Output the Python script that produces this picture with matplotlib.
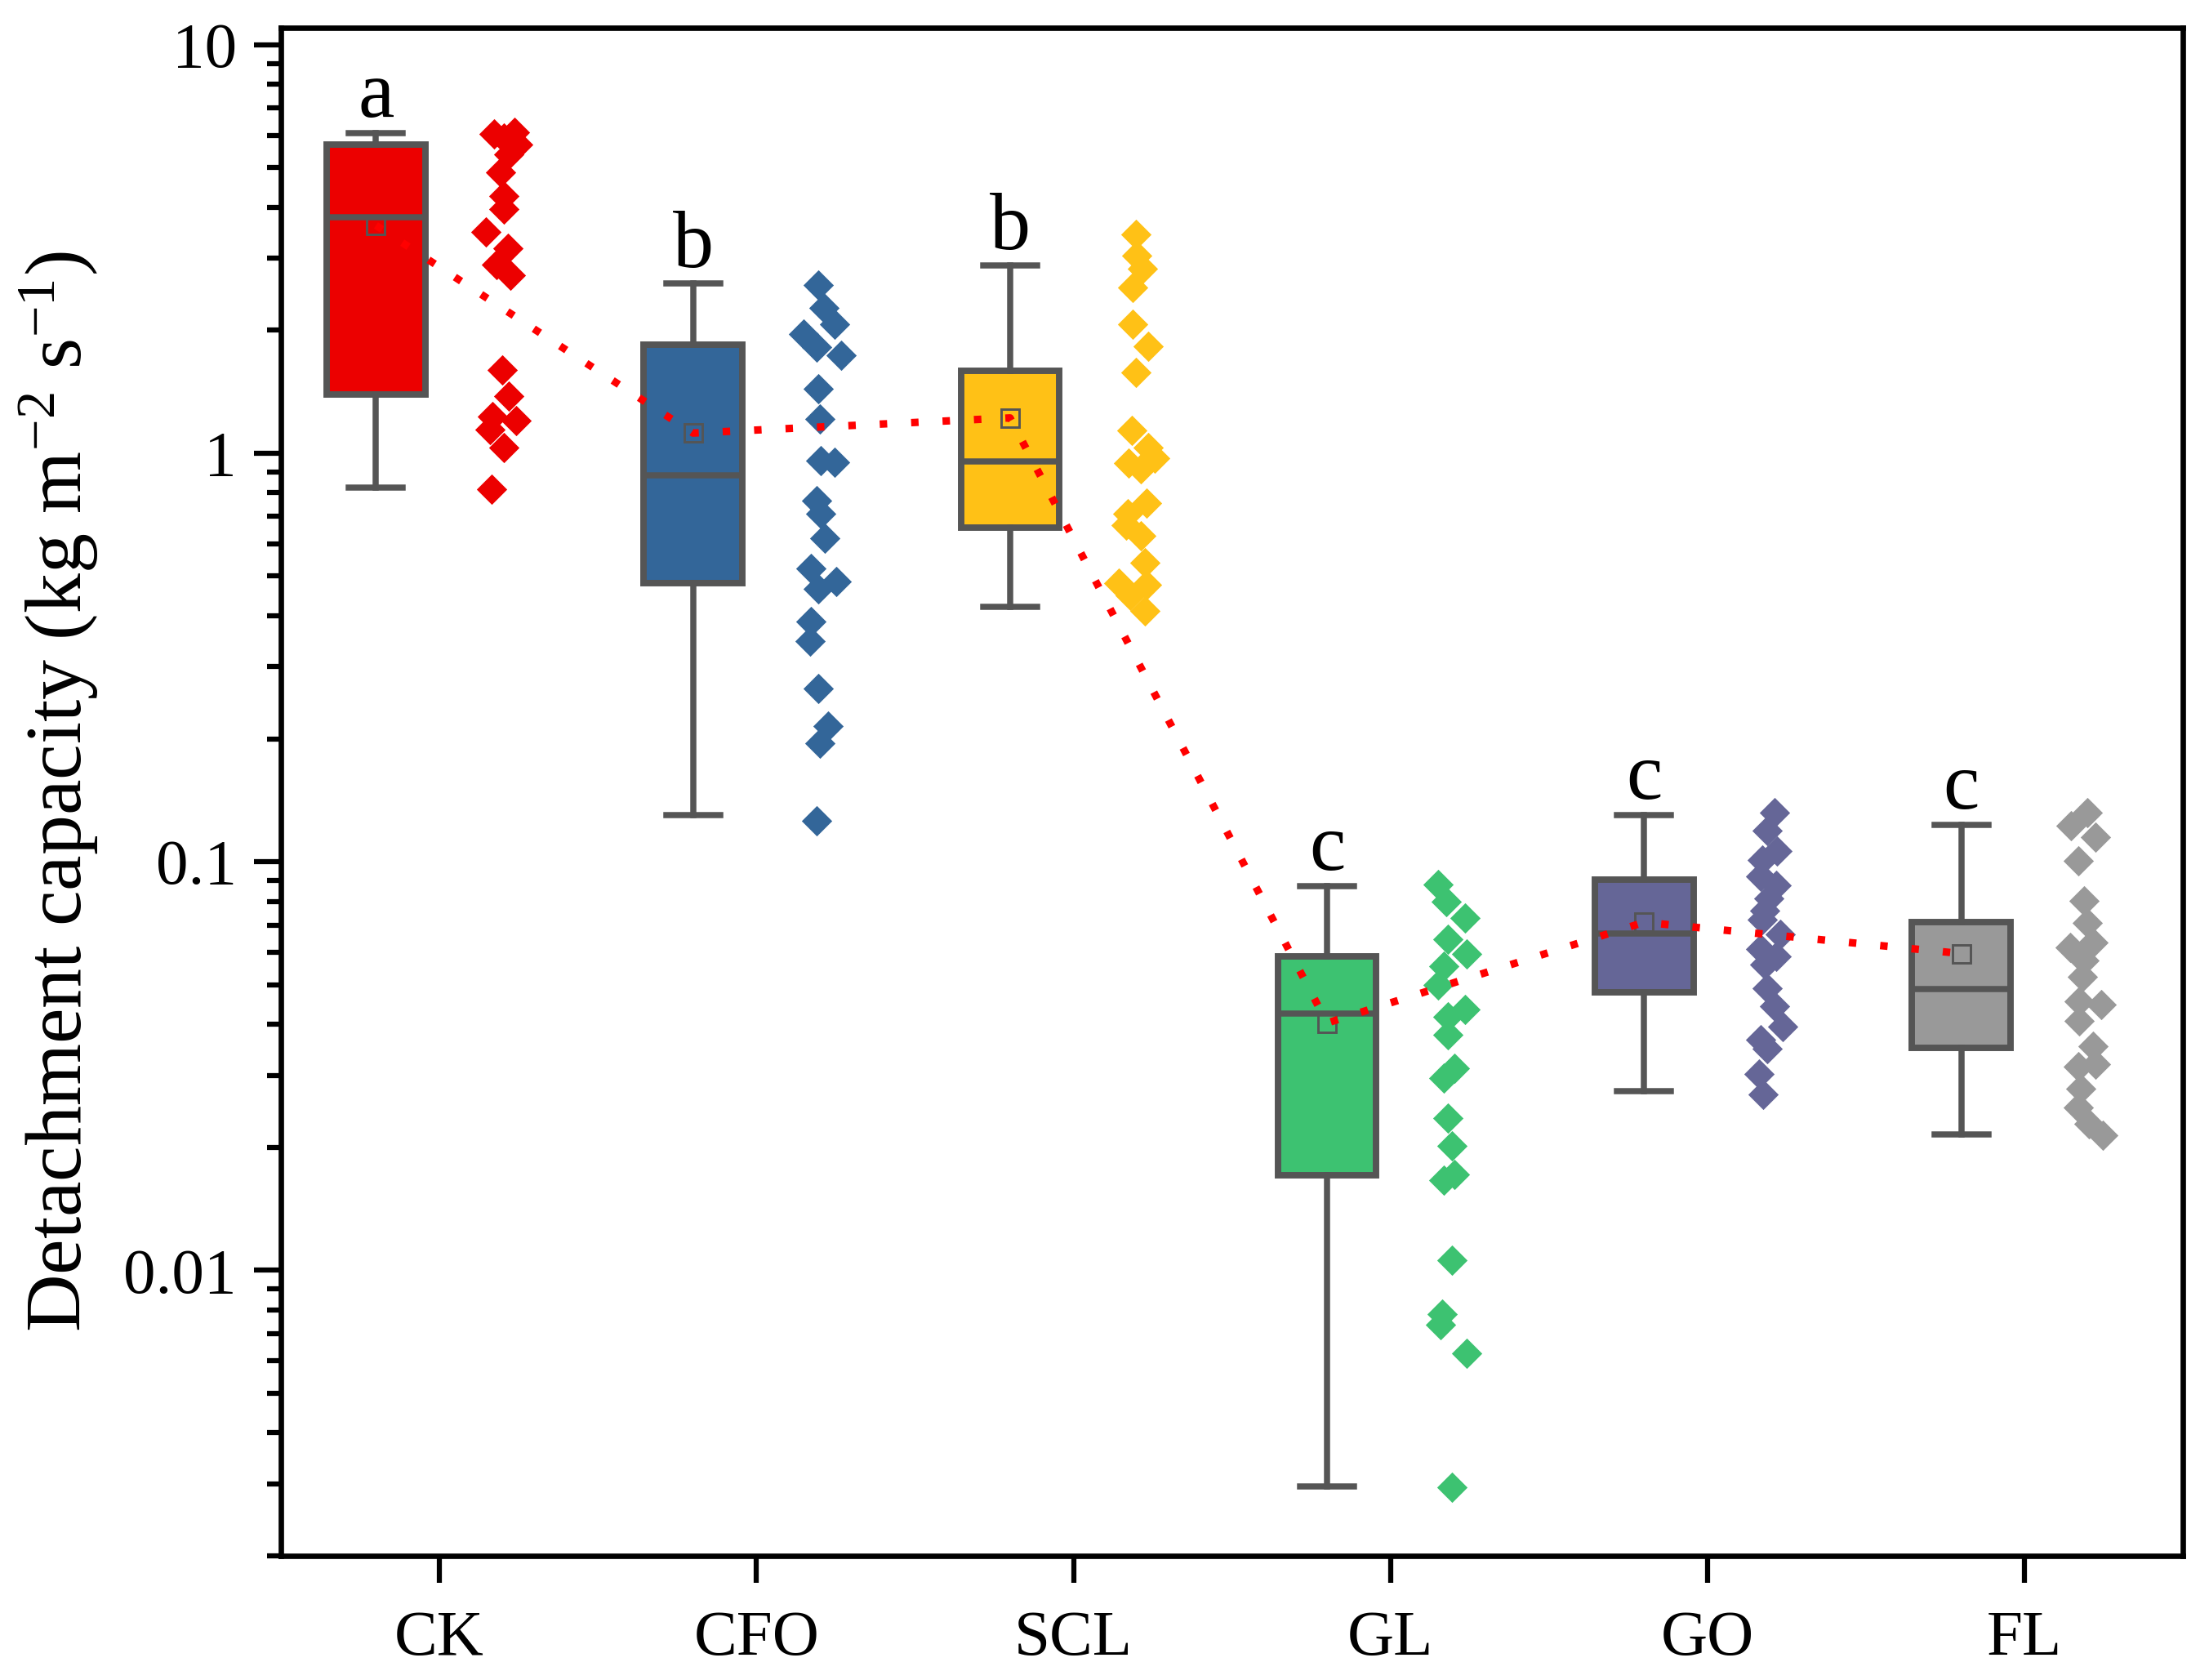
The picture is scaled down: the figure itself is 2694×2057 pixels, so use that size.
import numpy as np
import matplotlib
matplotlib.use("Agg")
import matplotlib.pyplot as plt
from matplotlib.ticker import LogLocator, NullFormatter, FuncFormatter

plt.rcParams["font.family"] = ["Liberation Serif", "DejaVu Serif"]
plt.rcParams["mathtext.fontset"] = "custom"
plt.rcParams["mathtext.rm"] = "Liberation Serif"
plt.rcParams["mathtext.it"] = "Liberation Serif:italic"
plt.rcParams["mathtext.bf"] = "Liberation Serif:bold"

GROUPS = ["CK", "CFO", "SCL", "GL", "GO", "FL"]
LETTERS = ["a", "b", "b", "c", "c", "c"]
COLORS = ["#EC0000", "#336699", "#FFC116", "#3DC271", "#656697", "#999999"]

# box statistics
Q1 = [1.39, 0.48, 0.658, 0.0171, 0.0478, 0.0351]
MED = [3.78, 0.883, 0.954, 0.0425, 0.0667, 0.0489]
Q3 = [5.70, 1.84, 1.59, 0.0587, 0.0905, 0.0711]
WHISLO = [0.825, 0.13, 0.42, 0.00296, 0.0275, 0.0215]
WHISHI = [6.08, 2.60, 2.88, 0.0873, 0.130, 0.123]
MEANS = [3.61, 1.12, 1.22, 0.0403, 0.0711, 0.0596]

# individual measurements
CK = [6.09, 6.04, 5.91, 5.69, 5.38, 4.87, 4.27, 3.96, 3.48, 3.17, 2.89, 2.72,
      1.60, 1.38, 1.23, 1.20, 1.14, 1.03, 0.815]
CFO = [2.58, 2.27, 2.07, 1.96, 1.82, 1.74, 1.44, 1.21, 0.96, 0.95, 0.764, 0.71,
       0.619, 0.522, 0.485, 0.465, 0.388, 0.346, 0.266, 0.215, 0.195, 0.126]
SCL = [3.43, 3.05, 2.83, 2.54, 2.07, 1.83, 1.58, 1.135, 1.03, 0.973, 0.944, 0.915,
       0.755, 0.71, 0.668, 0.629, 0.539, 0.48, 0.477, 0.448, 0.412]
GL = [0.0879, 0.080, 0.0728, 0.0647, 0.0596, 0.0556, 0.050, 0.0434, 0.0418, 0.0377,
      0.0312, 0.0295, 0.0236, 0.0202, 0.0172, 0.0166, 0.0106, 0.0078, 0.00737,
      0.00625, 0.00294]
GO = [0.132, 0.119, 0.106, 0.101, 0.0923, 0.0874, 0.0815, 0.076, 0.0721, 0.0663,
      0.061, 0.0587, 0.056, 0.0491, 0.0442, 0.0394, 0.0367, 0.0348, 0.0303, 0.027]
FL = [0.132, 0.1225, 0.115, 0.1003, 0.0803, 0.071, 0.0618, 0.0633, 0.0573, 0.0523,
      0.0455, 0.0448, 0.0408, 0.0353, 0.0315, 0.032, 0.0278, 0.025, 0.0228, 0.0214]

# horizontal offset of each point from its category tick (as drawn)
CK_X = [0.237, 0.173, 0.203, 0.246, 0.22, 0.194, 0.203, 0.203, 0.147, 0.216, 0.181, 0.224,
        0.198, 0.22, 0.168, 0.241, 0.16, 0.203, 0.164]
CFO_X = [0.195, 0.212, 0.246, 0.148, 0.19, 0.268, 0.195, 0.199, 0.204, 0.246, 0.19, 0.204,
         0.216, 0.173, 0.251, 0.195, 0.173, 0.169, 0.195, 0.225, 0.199, 0.19]
SCL_X = [0.196, 0.20, 0.217, 0.187, 0.187, 0.235, 0.196, 0.183, 0.235, 0.256, 0.174, 0.213,
         0.23, 0.17, 0.166, 0.213, 0.226, 0.144, 0.23, 0.179, 0.226]
GL_X = [0.149, 0.175, 0.235, 0.18, 0.24, 0.167, 0.149, 0.235, 0.18, 0.18, 0.201, 0.167,
        0.18, 0.193, 0.201, 0.167, 0.193, 0.162, 0.158, 0.24, 0.193]
GO_X = [0.21, 0.189, 0.219, 0.172, 0.167, 0.215, 0.193, 0.18, 0.172, 0.228, 0.167, 0.215,
        0.18, 0.189, 0.21, 0.236, 0.167, 0.189, 0.163, 0.176]
FL_X = [0.198, 0.147, 0.224, 0.168, 0.186, 0.198, 0.143, 0.216, 0.186, 0.181, 0.173, 0.242,
        0.173, 0.216, 0.168, 0.224, 0.177, 0.168, 0.203, 0.246]

POINTS = [CK, CFO, SCL, GL, GO, FL]
OFFSETS = [CK_X, CFO_X, SCL_X, GL_X, GO_X, FL_X]

EDGE = "#555555"
BOX_SHIFT = -0.2

fig = plt.figure(figsize=(2695 / 300, 2057 / 300), dpi=300)
ax = fig.add_axes([0.1276, 0.0739, 0.8644, 0.9096])

pos = np.arange(1, len(GROUPS) + 1)
box_pos = pos + BOX_SHIFT

stats = []
for i in range(len(GROUPS)):
    stats.append(dict(q1=Q1[i], med=MED[i], q3=Q3[i], whislo=WHISLO[i],
                      whishi=WHISHI[i], mean=MEANS[i], fliers=[]))

bp = ax.bxp(stats, positions=box_pos, widths=0.31, capwidths=0.17,
            patch_artist=True, showmeans=True, showfliers=False,
            boxprops=dict(edgecolor=EDGE, linewidth=1.9),
            whiskerprops=dict(color=EDGE, linewidth=1.8),
            capprops=dict(color=EDGE, linewidth=1.8),
            medianprops=dict(color=EDGE, linewidth=1.8),
            meanprops=dict(marker="s", markerfacecolor="none", markeredgecolor=EDGE,
                           markeredgewidth=0.7, markersize=5.5))
for patch, c in zip(bp["boxes"], COLORS):
    patch.set_facecolor(c)
    patch.set_zorder(2)

for i, (vals, offs, c) in enumerate(zip(POINTS, OFFSETS, COLORS)):
    ax.scatter(pos[i] + np.array(offs), vals, marker="D", s=40, color=c,
               linewidths=0, zorder=3)

ax.plot(box_pos, MEANS, color="red", linestyle=(0, (1, 3.2)), linewidth=2.2, zorder=6)

for i, letter in enumerate(LETTERS):
    ax.text(box_pos[i], WHISHI[i] * 10 ** 0.04, letter, ha="center", va="baseline",
            fontsize=24)

ax.set_yscale("log")
ax.set_ylim(0.002, 11)
ax.set_xlim(0.5, 6.5)
ax.yaxis.set_major_locator(LogLocator(base=10, numticks=10))
ax.yaxis.set_minor_locator(LogLocator(base=10, subs=np.arange(2, 10), numticks=20))
ax.yaxis.set_major_formatter(FuncFormatter(lambda v, p: f"{v:g}"))
ax.yaxis.set_minor_formatter(NullFormatter())
ax.set_xticks(pos)
ax.set_xticklabels(GROUPS)

ax.tick_params(axis="y", which="major", direction="out", length=8, width=1.5,
               labelsize=19, pad=5)
ax.tick_params(axis="y", which="minor", direction="out", length=4, width=1.5)
ax.tick_params(axis="x", direction="out", length=8, width=1.5, labelsize=19, pad=8)
for sp in ax.spines.values():
    sp.set_linewidth(1.6)

ax.set_ylabel("Detachment capacity (kg m$^{-2}$ s$^{-1}$)", fontsize=23.5, labelpad=7)

fig.savefig("out.png", dpi=300)
